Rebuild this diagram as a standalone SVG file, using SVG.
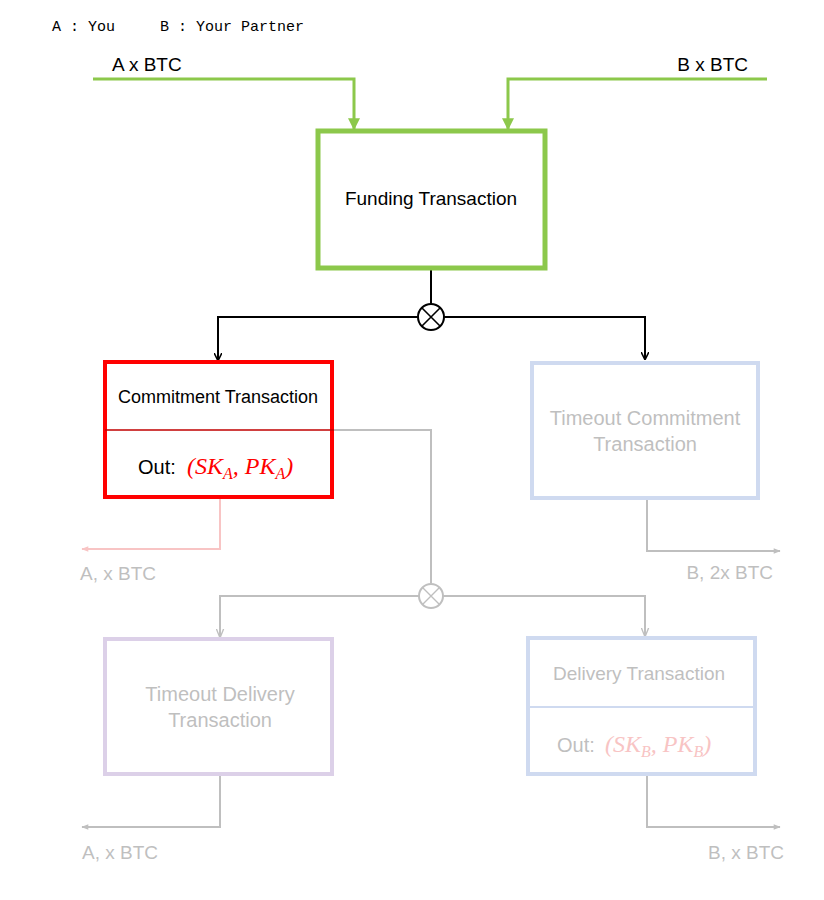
<svg xmlns="http://www.w3.org/2000/svg" width="824" height="900" viewBox="0 0 824 900">
<style>
.lbl{font-family:"Liberation Sans",Arial,sans-serif;font-size:17px;}
.gray{fill:#BFBFBF;}
.math{font-family:"Liberation Serif","Times New Roman",serif;font-style:italic;font-size:24px;}
.sub{font-size:16px;}
.box{fill:#fff;}
</style>
<defs>
<marker id="ag" viewBox="0 0 10 10" refX="9" refY="5" markerWidth="4" markerHeight="4" orient="auto"><path d="M0,0 L10,5 L0,10 z" fill="#8CC84B"/></marker>
<marker id="ab" viewBox="0 0 10 10" refX="9" refY="5" markerWidth="8" markerHeight="8" markerUnits="userSpaceOnUse" orient="auto"><path d="M0,0 L10,5 L0,10" fill="none" stroke="#000" stroke-width="2"/></marker>
<marker id="agr" viewBox="0 0 10 10" refX="9" refY="5" markerWidth="9" markerHeight="9" markerUnits="userSpaceOnUse" orient="auto"><path d="M0,1 L10,5 L0,9" fill="none" stroke="#BFBFBF" stroke-width="1.5"/></marker>
<marker id="agf" viewBox="0 0 10 10" refX="9" refY="5" markerWidth="9" markerHeight="7" markerUnits="userSpaceOnUse" orient="auto"><path d="M0,1 L10,5 L0,9 z" fill="#BFBFBF"/></marker>
<marker id="ap" viewBox="0 0 10 10" refX="9" refY="5" markerWidth="9" markerHeight="7" markerUnits="userSpaceOnUse" orient="auto"><path d="M0,1 L10,5 L0,9 z" fill="#F8C4C4"/></marker>
</defs>
<rect width="824" height="900" fill="#fff"/>
<text x="52" y="31" style="font-family:'Liberation Mono','DejaVu Sans Mono',monospace;font-size:15px;white-space:pre" xml:space="preserve">A : You     B : Your Partner</text>
<text x="112" y="71" class="lbl" style="font-size:19px">A x BTC</text>
<text x="748" y="71" class="lbl" style="font-size:19px" text-anchor="end">B x BTC</text>

<g id="connectors">
<path d="M93,79 H354 V129" fill="none" stroke="#8CC84B" stroke-width="3" marker-end="url(#ag)"/>
<path d="M767,79 H508 V129" fill="none" stroke="#8CC84B" stroke-width="3" marker-end="url(#ag)"/>
<path d="M431,268 V304" fill="none" stroke="#000" stroke-width="2"/>
<path d="M418,317 H218 V360" fill="none" stroke="#000" stroke-width="2" marker-end="url(#ab)"/>
<path d="M444,317 H645 V359" fill="none" stroke="#000" stroke-width="2" marker-end="url(#ab)"/>
<g id="xor1"><circle cx="431" cy="317" r="13" fill="#fff" stroke="#000" stroke-width="2"/><path d="M422,308 L440,326 M440,308 L422,326" stroke="#000" stroke-width="1.6"/></g>
<path d="M332,430 H431 V583" fill="none" stroke="#BFBFBF" stroke-width="2"/>
<path d="M419,596 H220 V637" fill="none" stroke="#BFBFBF" stroke-width="2" marker-end="url(#agr)"/>
<path d="M443,596 H645 V636" fill="none" stroke="#BFBFBF" stroke-width="2" marker-end="url(#agr)"/>
<g id="xor2"><circle cx="431" cy="596" r="12" fill="#fff" stroke="#BFBFBF" stroke-width="2"/><path d="M423,588 L439,604 M439,588 L423,604" stroke="#BFBFBF" stroke-width="1.4"/></g>
<path d="M220,498 V549 H82" fill="none" stroke="#F8C4C4" stroke-width="2" marker-end="url(#ap)"/>
<path d="M647,498 V551 H780" fill="none" stroke="#BFBFBF" stroke-width="2" marker-end="url(#agf)"/>
<path d="M220,774 V827 H82" fill="none" stroke="#BFBFBF" stroke-width="2" marker-end="url(#agf)"/>
<path d="M647,774 V827 H780" fill="none" stroke="#BFBFBF" stroke-width="2" marker-end="url(#agf)"/>
</g>

<g id="funding">
<rect x="318" y="131" width="227" height="137" class="box" stroke="#8CC84B" stroke-width="5"/>
<text x="431" y="205" class="lbl" style="font-size:19px" text-anchor="middle">Funding Transaction</text>
</g>

<g id="commitment">
<rect x="105" y="362" width="227" height="135" class="box" stroke="#FF0000" stroke-width="4"/>
<line x1="105" y1="430" x2="334" y2="430" stroke="#C00000" stroke-width="1.5"/>
<text x="218" y="403" class="lbl" style="font-size:18px" text-anchor="middle">Commitment Transaction</text>
<text x="138" y="474" class="lbl" style="font-size:20px">Out: </text>
<text x="187" y="474" class="math" fill="#FF0000">(SK<tspan class="sub" dy="5">A</tspan><tspan dy="-5">, PK</tspan><tspan class="sub" dy="5">A</tspan><tspan dy="-5">)</tspan></text>
<text x="80" y="580" class="lbl gray" style="font-size:19px">A, x BTC</text>
</g>

<g id="timeout-commitment">
<rect x="532" y="363" width="226" height="135" class="box" stroke="#CFDAF0" stroke-width="4"/>
<text x="645" y="425" class="lbl gray" style="font-size:20px" text-anchor="middle">Timeout Commitment</text>
<text x="645" y="451" class="lbl gray" style="font-size:20px" text-anchor="middle">Transaction</text>
<text x="773" y="579" class="lbl gray" style="font-size:19px" text-anchor="end">B, 2x BTC</text>
</g>

<g id="timeout-delivery">
<rect x="105" y="639" width="227" height="135" class="box" stroke="#DCD0E8" stroke-width="4"/>
<text x="220" y="701" class="lbl gray" style="font-size:20px" text-anchor="middle">Timeout Delivery</text>
<text x="220" y="727" class="lbl gray" style="font-size:20px" text-anchor="middle">Transaction</text>
<text x="82" y="859" class="lbl gray" style="font-size:19px">A, x BTC</text>
</g>

<g id="delivery">
<rect x="528" y="638" width="227" height="136" class="box" stroke="#CFDAF0" stroke-width="4"/>
<line x1="528" y1="707" x2="755" y2="707" stroke="#CFDAF0" stroke-width="2"/>
<text x="639" y="680" class="lbl gray" style="font-size:19px" text-anchor="middle">Delivery Transaction</text>
<text x="557" y="752" class="lbl gray" style="font-size:20px">Out: </text>
<text x="605" y="752" class="math" fill="#F8C4C4">(SK<tspan class="sub" dy="5">B</tspan><tspan dy="-5">, PK</tspan><tspan class="sub" dy="5">B</tspan><tspan dy="-5">)</tspan></text>
<text x="784" y="859" class="lbl gray" style="font-size:19px" text-anchor="end">B, x BTC</text>
</g>
</svg>
